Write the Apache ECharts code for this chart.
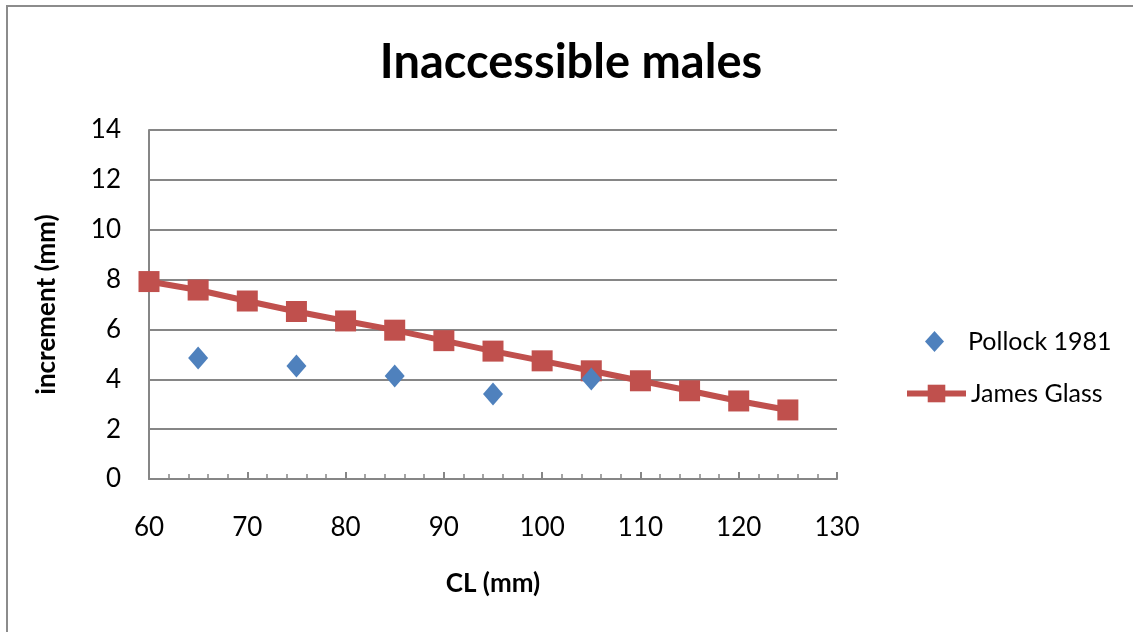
<!DOCTYPE html>
<html><head><meta charset="utf-8">
<script src="https://cdn.jsdelivr.net/npm/echarts@6/dist/echarts.min.js"></script>
<style>html,body{margin:0;padding:0;background:#fff}#c{width:1133px;height:632px}</style>
</head><body><div id="c"></div>
<script>
const pollockX = [65, 75, 85, 95, 105];
const pollockY = [4.85, 4.53, 4.13, 3.41, 4.01];
const glassX = [60, 65, 70, 75, 80, 85, 90, 95, 100, 105, 110, 115, 120, 125];
const glassY = [7.92, 7.58, 7.14, 6.72, 6.34, 5.97, 5.55, 5.13, 4.74, 4.34, 3.94, 3.54, 3.13, 2.77];
const seriesNames = ['Pollock 1981', 'James Glass'];

const font = 'Lato, "Open Sans", sans-serif';
const chart = echarts.init(document.getElementById('c'));
chart.setOption({
  animation: false,
  backgroundColor: '#fff',
  graphic: [{type:'rect', shape:{x:7,y:6,width:1140,height:640}, style:{fill:'none', stroke:'#8c8c8c', lineWidth:2}, silent:true}],
  title: {text:'Inaccessible males', left: 566, top: 34, textAlign:'center',
    textStyle:{fontFamily:font, fontWeight:'bold', fontSize:47, color:'#000'}},
  grid: {left:149, right:296, top:130, bottom:153},
  legend: [
    {orient:'vertical', left: 920, top: 324, itemWidth: 19, itemHeight: 21,
     itemStyle:{opacity:1},
     textStyle:{fontFamily:font, fontSize:25, color:'#000', padding:[0,0,0,19]},
     data: [{name: seriesNames[0], icon:'diamond'}]},
    {orient:'vertical', left: 899, top: 376, itemWidth: 59, itemHeight: 22,
     lineStyle:{width:6},
     textStyle:{fontFamily:font, fontSize:25, color:'#000'},
     data: [seriesNames[1]]}
  ],
  xAxis: {type:'value', min:60, max:130, interval:10,
    name:'CL (mm)', nameLocation:'middle', nameGap:92,
    nameTextStyle:{fontFamily:font, fontWeight:'bold', fontSize:26, color:'#000'},
    axisLine:{lineStyle:{color:'#868686', width:2}},
    axisTick:{show:true, inside:true, length:7, lineStyle:{color:'#868686', width:2}},
    minorTick:{show:true, splitNumber:5, length:5, lineStyle:{color:'#868686', width:1.5}},
    axisLabel:{fontFamily:font, fontSize:26, color:'#000', margin:36},
    splitLine:{show:false}},
  yAxis: {type:'value', min:0, max:14, interval:2,
    name:'increment (mm)', nameLocation:'middle', nameGap:89, nameRotate:90,
    nameTextStyle:{fontFamily:font, fontWeight:'bold', fontSize:26, color:'#000'},
    axisLine:{show:true, lineStyle:{color:'#868686', width:2}},
    axisTick:{show:false},
    axisLabel:{fontFamily:font, fontSize:26, color:'#000', margin:28},
    splitLine:{lineStyle:{color:'#868686', width:2}}},
  series: [
    {name: seriesNames[0], type:'scatter', symbol:'diamond', symbolSize:[20,23],
     itemStyle:{color:'#4F81BD', opacity:1}, z:3,
     data: pollockX.map((x,i)=>[x, pollockY[i]])},
    {name: seriesNames[1], type:'line', symbol:'rect', symbolSize:21,
     lineStyle:{color:'#C0504D', width:6}, itemStyle:{color:'#C0504D', opacity:1}, z:2,
     data: glassX.map((x,i)=>[x, glassY[i]])}
  ]
});
</script></body></html>
